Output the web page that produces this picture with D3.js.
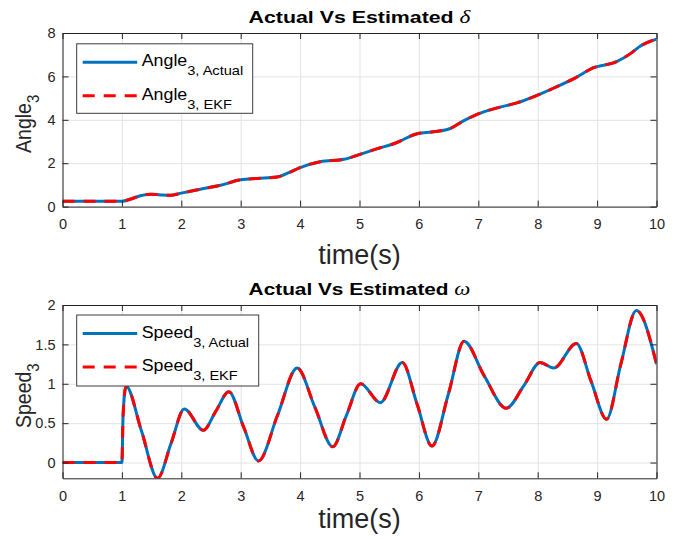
<!DOCTYPE html>
<html>
<head>
<meta charset="utf-8">
<script src="https://cdn.jsdelivr.net/npm/d3@7"></script>
<style>
  html, body { margin: 0; padding: 0; background: #fff; }
  svg { display: block; font-family: "Liberation Sans", Arial, Helvetica, sans-serif; }
</style>
</head>
<body>
<svg id="fig" width="678" height="539"></svg>
<script>
// ---- data -------------------------------------------------------------
const xTicks = [0, 1, 2, 3, 4, 5, 6, 7, 8, 9, 10];

// rotor angle of machine 3 (rad)
const angleTime   = [0, 0.5, 1.0, 1.15, 1.31, 1.48, 1.65, 1.82, 2.0, 2.32, 2.66, 3.0, 3.28, 3.61, 3.8, 4.0, 4.34, 4.74, 5.02, 5.3, 5.6, 5.97, 6.25, 6.53, 6.75, 6.98, 7.32, 7.65, 8.05, 8.3, 8.61, 8.94, 9.33, 9.56, 9.73, 10];
const angleActual = [0.25, 0.25, 0.25, 0.35, 0.5, 0.57, 0.54, 0.52, 0.62, 0.8, 0.98, 1.24, 1.3, 1.36, 1.55, 1.8, 2.07, 2.18, 2.42, 2.67, 2.92, 3.36, 3.45, 3.6, 3.95, 4.25, 4.55, 4.78, 5.2, 5.5, 5.9, 6.4, 6.68, 7.05, 7.4, 7.72];
const angleEKF    = [0.25, 0.25, 0.25, 0.35, 0.5, 0.57, 0.54, 0.52, 0.62, 0.8, 0.98, 1.24, 1.3, 1.36, 1.55, 1.8, 2.07, 2.18, 2.42, 2.67, 2.92, 3.36, 3.45, 3.6, 3.95, 4.25, 4.55, 4.78, 5.2, 5.5, 5.9, 6.4, 6.68, 7.05, 7.4, 7.72];
const angleTicks  = [0, 2, 4, 6, 8];

// rotor speed deviation of machine 3
const speedTime   = [0, 0.5, 1.0, 1.02, 1.07, 1.33, 1.6, 1.83, 2.05, 2.37, 2.58, 2.8, 3.05, 3.3, 3.62, 3.95, 4.25, 4.55, 4.78, 5.02, 5.35, 5.72, 5.97, 6.22, 6.5, 6.76, 7.1, 7.47, 7.77, 8.04, 8.27, 8.65, 8.9, 9.16, 9.4, 9.66, 10];
const speedActual = [0, 0, 0, 0.6, 0.97, 0.4, -0.2, 0.25, 0.68, 0.41, 0.65, 0.9, 0.45, 0.02, 0.6, 1.2, 0.7, 0.2, 0.6, 1.0, 0.76, 1.27, 0.74, 0.21, 0.88, 1.54, 1.1, 0.69, 0.98, 1.27, 1.2, 1.51, 1.03, 0.55, 1.25, 1.93, 1.25];
const speedEKF    = [0, 0, 0, 0.6, 0.97, 0.4, -0.2, 0.25, 0.68, 0.41, 0.65, 0.9, 0.45, 0.02, 0.6, 1.2, 0.7, 0.2, 0.6, 1.0, 0.76, 1.27, 0.74, 0.21, 0.88, 1.54, 1.1, 0.69, 0.98, 1.27, 1.2, 1.51, 1.03, 0.55, 1.25, 1.93, 1.25];
const speedTicks  = [0, 0.5, 1, 1.5, 2];

// ---- styling ----------------------------------------------------------
const BLUE = "#0072BD", RED = "#FF0000", AXIS = "#262626", GRID = "#e3e3e3";

const svg = d3.select("#fig");

function drawPanel(p) {
  const g = svg.append("g");
  const x = d3.scaleLinear().domain([0, 10]).range([p.left, p.right]);
  const y = d3.scaleLinear().domain(p.yDomain).range([p.bottom, p.top]);
  const w = p.right - p.left, h = p.bottom - p.top;

  // grid
  g.append("g").attr("transform", `translate(0,${p.bottom})`)
    .call(d3.axisBottom(x).tickValues(xTicks).tickSize(-h).tickFormat(""))
    .call(s => { s.select(".domain").remove(); s.selectAll("line").attr("stroke", GRID); });
  g.append("g").attr("transform", `translate(${p.left},0)`)
    .call(d3.axisLeft(y).tickValues(p.yTicks).tickSize(-w).tickFormat(""))
    .call(s => { s.select(".domain").remove(); s.selectAll("line").attr("stroke", GRID); });

  // curves
  const clipId = "clip" + p.id;
  g.append("clipPath").attr("id", clipId).append("rect")
    .attr("x", p.left).attr("y", p.top).attr("width", w).attr("height", h);
  const line = d3.line().x(d => x(d[0])).y(d => y(d[1])).curve(d3.curveMonotoneX);
  const actual = p.t.map((t, i) => [t, p.actual[i]]);
  const ekf = p.t.map((t, i) => [t, p.ekf[i]]);
  const plot = g.append("g").attr("clip-path", `url(#${clipId})`);
  plot.append("path").datum(actual).attr("d", line)
    .attr("fill", "none").attr("stroke", BLUE).attr("stroke-width", 3);
  plot.append("path").datum(ekf).attr("d", line)
    .attr("fill", "none").attr("stroke", RED).attr("stroke-width", 3)
    .attr("stroke-dasharray", "12,9");

  // axes with inward ticks on all four sides
  const styleAxis = s => {
    s.select(".domain").attr("stroke", AXIS);
    s.selectAll(".tick line").attr("stroke", AXIS);
    s.selectAll(".tick text").attr("fill", AXIS).attr("font-size", 14.5)
      .attr("font-family", "Liberation Sans, Arial, sans-serif");
  };
  g.append("g").attr("transform", `translate(0,${p.bottom})`)
    .call(d3.axisBottom(x).tickValues(xTicks).tickSizeInner(-6).tickSizeOuter(0).tickPadding(12).tickFormat(d3.format("d")))
    .call(styleAxis);
  g.append("g").attr("transform", `translate(0,${p.top})`)
    .call(d3.axisTop(x).tickValues(xTicks).tickSizeInner(-6).tickSizeOuter(0).tickFormat(""))
    .call(styleAxis);
  g.append("g").attr("transform", `translate(${p.left},0)`)
    .call(d3.axisLeft(y).tickValues(p.yTicks).tickSizeInner(-6).tickSizeOuter(0).tickPadding(7).tickFormat(d => d3.format("")(d)))
    .call(styleAxis);
  g.append("g").attr("transform", `translate(${p.right},0)`)
    .call(d3.axisRight(y).tickValues(p.yTicks).tickSizeInner(-6).tickSizeOuter(0).tickFormat(""))
    .call(styleAxis);

  // title, widened to the figure's heading width
  const title = g.append("text")
    .attr("text-anchor", "middle").attr("font-size", 16.5).attr("font-weight", "bold").attr("fill", "#000");
  title.append("tspan").text(p.title);
  title.append("tspan").text(p.symbol).attr("font-family", "Liberation Serif, serif")
    .attr("font-style", "italic").attr("font-weight", "normal").attr("font-size", 18);
  const tw = title.node().getComputedTextLength();
  title.attr("transform", `translate(${(p.left + p.right) / 2},${p.top - 10.5}) scale(${222 / tw},1)`);

  // y label with subscript
  const yl = g.append("text")
    .attr("transform", `translate(31,${(p.top + p.bottom) / 2 + 4}) scale(1.15,1) rotate(-90)`)
    .attr("text-anchor", "middle").attr("font-size", 19.5).attr("fill", AXIS);
  yl.append("tspan").text(p.yName);
  yl.append("tspan").text("3").attr("font-size", 15).attr("dy", 7);

  // x label
  g.append("text").attr("x", (p.left + p.right) / 2).attr("y", p.bottom + p.xLabelOffset)
    .attr("text-anchor", "middle").attr("font-size", 27).attr("fill", AXIS).text("time(s)");

  // legend
  const lg = g.append("g");
  lg.append("rect").attr("x", p.legend.x).attr("y", p.legend.y)
    .attr("width", p.legend.w).attr("height", p.legend.h)
    .attr("fill", "#fff").attr("stroke", "#3c3c3c").attr("stroke-width", 1);
  const entries = [
    { sub: "3, Actual", color: BLUE, dash: null },
    { sub: "3, EKF", color: RED, dash: "12,9" }
  ];
  entries.forEach((e, i) => {
    const cy = p.legend.y + 18.5 + i * 33.4;
    lg.append("line").attr("x1", p.legend.x + 6).attr("x2", p.legend.x + 60.5)
      .attr("y1", cy).attr("y2", cy).attr("stroke", e.color).attr("stroke-width", 3)
      .attr("stroke-dasharray", e.dash);
    const t = lg.append("text")
      .attr("transform", `translate(${p.legend.x + 65},${cy + 4}) scale(1.08,1)`)
      .attr("font-size", 16.5).attr("fill", "#000");
    t.append("tspan").text(p.yName);
    t.append("tspan").text(e.sub).attr("font-size", 13.5).attr("dy", 9);
  });
}

drawPanel({
  id: "a", left: 62.5, right: 656.5, top: 33, bottom: 206.6,
  yDomain: [0, 8], yTicks: angleTicks,
  t: angleTime, actual: angleActual, ekf: angleEKF,
  title: "Actual Vs Estimated ", symbol: "δ", yName: "Angle",
  xLabelOffset: 57,
  legend: { x: 76.7, y: 43.8, w: 176, h: 69.5 }
});

drawPanel({
  id: "b", left: 62.5, right: 656.5, top: 305, bottom: 478.3,
  yDomain: [-0.2, 2], yTicks: speedTicks,
  t: speedTime, actual: speedActual, ekf: speedEKF,
  title: "Actual Vs Estimated ", symbol: "ω", yName: "Speed",
  xLabelOffset: 50,
  legend: { x: 76.7, y: 315, w: 182, h: 71 }
});
</script>
</body>
</html>
